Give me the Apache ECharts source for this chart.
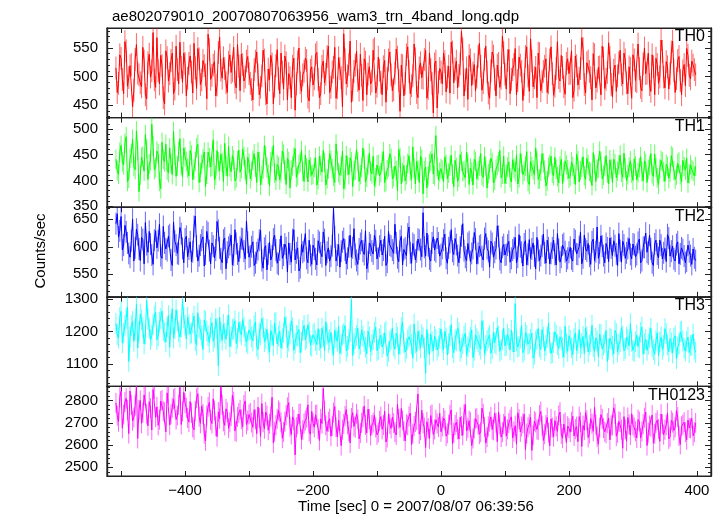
<!DOCTYPE html>
<html>
<head>
<meta charset="utf-8">
<script src="https://cdn.jsdelivr.net/npm/echarts@6/dist/echarts.min.js"></script>
<style>html,body{margin:0;padding:0;background:#fff}#c{width:724px;height:516px}</style>
</head>
<body>
<div id="c"></div>
<script>
// ---- data (2 s sampling: "a" bins start at t = -508 s, "b" bins at t = -506 s, each every 4 s) ----
const titleText = "ae802079010_20070807063956_wam3_trn_4band_long.qdp";
const xName = "Time [sec] 0 = 2007/08/07 06:39:56";
const yName = "Counts/sec";
const bandNames = ["TH0", "TH1", "TH2", "TH3", "TH0123"];
const tStart = -508;
const tStep = 2;
const xTicks = [-500, -400, -300, -200, -100, 0, 100, 200, 300, 400];
const xLabels = [-400, -200, 0, 200, 400];
// typical half-length of the light error bars in each panel (counts/sec)
const errBars = [20, 19, 20, 32, 45];

const th0a = [515,488,532,470,545,498,521,476,556,503,482,527,461,539,510,494,568,487,519,452,533,505,541,478,512,560,490,523,
497,536,471,515,549,486,528,503,574,495,520,466,542,511,533,489,525,507,551,480,518,539,492,527,505,
477,512,543,468,501,529,452,494,522,483,547,470,508,536,459,498,518,441,526,489,503,532,464,511,485,
538,495,470,527,504,553,481,516,462,533,498,575,487,521,455,509,544,476,502,531,468,517,492,549,483,
511,468,528,496,543,475,506,534,439,519,488,552,470,501,531,463,524,497,546,479,512,436,527,490,508,
541,473,518,560,489,527,502,579,466,515,537,484,521,499,558,476,530,508,462,543,495,520,481,571,504,
528,470,512,549,493,520,458,535,501,566,482,516,541,475,509,531,489,552,467,514,498,537,482,523,505,
545,476,519,497,568,486,524,509,459,538,492,517,553,479,507,533,464,520,501,546,487,529,470,514,538,
493,557,481,522,505,541,474,517,532,488,564,499,526,478,543,510,496,535,468,521,549,502,527,512];
const th0b = [472,538,495,561,483,519,447,530,506,489,551,468,524,499,577,481,510,537,463,545,492,528,470,553,487,516,541,
466,523,508,558,479,531,494,519,461,547,502,526,485,569,497,514,472,538,510,490,556,475,521,499,535,
488,459,527,503,481,546,470,513,537,452,519,496,541,478,524,505,463,532,487,550,474,509,528,457,517,
496,542,463,518,489,535,472,508,551,480,514,447,529,501,562,476,520,493,539,458,525,504,487,546,471,
534,490,517,455,529,503,477,548,493,520,466,538,509,484,557,472,515,498,530,462,541,488,522,445,514,
487,526,499,471,543,513,480,522,548,494,460,529,506,475,535,518,489,553,471,510,536,466,523,497,542,
478,547,495,521,468,534,509,486,552,474,527,498,463,540,491,518,472,529,505,483,561,492,516,469,531,
506,463,536,485,514,549,471,527,498,540,480,516,468,532,495,559,486,511,474,524,503,541,489,517,462,
529,491,514,475,550,506,486,538,468,521,499,544,480,517,505,562,472,528,493,510,484,537,496,520,503];

const th1a = [441,412,468,430,485,404,452,427,496,378,445,418,461,432,509,421,457,398,474,436,420,463,411,449,428,481,407,446,
424,458,401,437,470,415,442,388,455,426,479,410,436,451,398,428,466,417,440,405,459,423,447,392,433,
418,452,396,437,410,468,425,389,446,414,431,401,457,420,443,385,428,462,409,435,417,449,397,426,412,
444,402,429,458,391,422,439,408,471,415,427,384,448,411,436,419,460,398,425,441,406,453,413,389,430,
409,437,396,421,452,403,428,380,444,415,399,433,418,465,393,420,447,374,426,408,438,412,487,401,423,
397,431,414,449,388,425,406,437,419,455,392,416,441,403,428,410,446,385,421,435,400,429,458,412,394,
426,405,440,417,393,452,411,428,398,437,420,463,402,418,434,389,426,447,409,422,395,441,416,430,404,
436,412,451,397,425,409,443,418,390,431,422,457,403,427,414,440,396,432,418,449,406,424,411,438,400,
428,415,446,399,433,421,452,408,425,392,439,417,431,404,448,419,410,436,397,427,443,413,421,409];
const th1b = [419,455,436,472,398,443,480,421,458,410,447,489,402,438,466,425,452,384,441,470,415,433,495,408,456,429,463,
437,409,449,422,463,396,431,455,412,444,427,401,458,419,435,472,408,426,448,399,438,416,461,421,445,
403,439,426,455,391,422,448,412,436,468,400,427,415,451,392,437,420,445,406,431,458,398,424,440,410,
425,391,447,416,435,403,452,423,396,438,410,457,401,429,444,388,420,436,411,463,397,430,418,447,405,
431,415,456,398,426,443,407,419,460,393,429,411,448,402,424,437,396,441,419,385,433,452,409,427,416,
420,446,403,428,412,439,398,450,417,405,433,424,391,437,419,452,406,428,413,443,395,422,436,405,447,
412,436,397,424,449,405,433,418,456,392,427,411,439,403,452,420,399,431,414,445,407,428,393,438,421,
408,427,392,438,419,446,402,431,415,454,398,424,437,410,448,393,422,441,405,430,416,453,399,426,414,
442,401,425,417,438,396,429,413,451,405,422,436,398,427,416,445,402,433,411,439,420,395,430,418,427];

const th2a = [642,618,655,603,627,588,611,574,632,596,617,569,604,628,585,612,598,641,579,607,593,622,566,610,588,635,597,614,
582,609,591,656,574,603,618,587,625,569,601,594,630,578,612,560,599,621,585,606,573,615,592,647,581,
600,566,589,612,575,597,558,608,583,621,570,594,579,605,554,587,613,576,598,562,590,624,571,584,603,
578,611,589,627,566,598,583,670,574,604,592,615,569,600,581,633,575,596,612,586,560,607,592,621,578,
601,585,619,572,603,594,641,580,611,567,598,623,589,606,576,614,595,662,583,602,574,618,591,607,586,
612,579,598,631,586,604,571,620,593,575,609,588,626,569,601,582,615,597,563,606,590,638,577,599,585,
603,572,594,617,581,600,565,611,586,579,607,560,593,584,623,570,598,588,612,567,595,581,606,574,590,
578,614,587,600,569,621,592,583,609,575,636,589,601,571,598,616,584,602,566,593,610,579,597,586,605,
582,608,571,599,625,587,596,566,612,580,603,589,573,616,592,578,604,569,598,583,574,591,568,580];
const th2b = [660,629,594,639,607,581,650,598,622,575,613,644,590,605,568,629,611,584,637,596,619,576,645,603,587,624,571,
619,596,573,637,601,584,612,565,628,593,607,580,646,598,571,616,590,604,567,631,587,599,614,578,608,
583,609,571,595,630,561,602,587,576,614,594,568,620,585,598,607,572,631,589,556,604,593,579,612,568,
596,567,608,582,613,590,574,602,618,585,563,609,594,579,621,598,586,568,606,592,629,573,603,587,611,
579,612,594,566,628,601,588,607,573,619,595,584,636,570,603,591,612,582,599,625,578,607,594,616,583,
597,623,570,608,592,615,584,599,642,581,606,573,597,614,588,603,576,624,592,610,581,597,619,571,604,
586,610,579,598,571,622,590,605,567,613,596,583,617,575,601,589,612,569,598,586,624,572,603,591,579,
599,574,611,586,627,580,596,606,568,614,591,579,620,584,606,573,598,611,587,624,572,603,589,615,578,
604,586,614,575,599,590,621,571,605,587,612,578,597,622,583,601,574,609,587,595,571,603,584,596,575];

const th3a = [1225,1180,1262,1195,1241,1108,1218,1170,1284,1201,1236,1162,1296,1210,1188,1247,1175,1229,1263,1197,1215,1152,1270,1208,1233,1183,1299,1219,
1244,1192,1226,1171,1258,1206,1145,1231,1187,1212,1170,1239,1095,1198,1222,1176,1251,1184,1208,1163,1229,1190,1214,1168,1205,
1183,1218,1155,1196,1240,1169,1207,1137,1189,1226,1162,1201,1178,1244,1151,1193,1212,1164,1186,1135,1203,1174,1221,1158,1190,
1172,1209,1149,1185,1230,1166,1197,1128,1181,1215,1160,1194,1140,1176,1298,1163,1188,1147,1205,1170,1132,1183,1159,1197,1141,
1178,1152,1196,1124,1169,1210,1146,1183,1160,1228,1137,1174,1190,1118,1165,1201,1149,1181,1072,1163,1192,1140,1176,1155,1208,
1144,1180,1163,1221,1135,1171,1196,1150,1185,1127,1167,1205,1142,1178,1158,1233,1131,1172,1189,1147,1166,1212,1139,1174,1156,
1191,1143,1168,1286,1152,1180,1135,1197,1161,1176,1118,1170,1209,1145,1183,1157,1226,1132,1166,1190,1148,1174,1121,1163,1187,
1150,1178,1141,1206,1163,1132,1184,1158,1219,1139,1171,1192,1146,1166,1108,1180,1155,1203,1137,1169,1186,1148,1175,1224,1142,
1168,1153,1197,1130,1176,1161,1210,1144,1172,1125,1183,1157,1194,1138,1165,1179,1116,1162,1201,1149,1170,1135,1158,1146];
const th3b = [1190,1243,1165,1219,1276,1183,1231,1207,1149,1254,1212,1192,1238,1175,1221,1259,1186,1240,1203,1168,1249,1225,1180,1267,1199,1214,1242,
1177,1220,1196,1248,1159,1213,1187,1235,1201,1166,1227,1182,1210,1244,1173,1195,1219,1153,1206,1233,1179,1200,1237,1185,1162,
1206,1171,1229,1145,1190,1213,1180,1164,1203,1157,1228,1186,1149,1197,1215,1170,1233,1142,1188,1206,1167,1219,1179,1198,1154,
1195,1160,1173,1210,1141,1192,1175,1156,1204,1170,1133,1189,1218,1154,1200,1126,1178,1210,1161,1186,1152,1201,1139,1175,1213,
1145,1189,1163,1201,1138,1176,1157,1195,1130,1212,1165,1148,1184,1160,1223,1139,1174,1191,1150,1206,1129,1168,1185,1143,1179,
1166,1201,1128,1187,1150,1175,1211,1139,1162,1194,1153,1182,1120,1190,1169,1146,1204,1157,1180,1133,1198,1161,1186,1145,1210,
1158,1179,1204,1137,1171,1155,1219,1142,1188,1163,1195,1130,1176,1154,1206,1140,1182,1167,1135,1199,1160,1184,1151,1216,1139,
1173,1128,1196,1162,1149,1185,1211,1137,1168,1154,1180,1123,1191,1158,1203,1145,1176,1131,1194,1160,1212,1141,1183,1156,1170,
1138,1189,1150,1214,1163,1142,1181,1155,1130,1196,1167,1145,1209,1159,1178,1134,1187,1152,1199,1171,1140,1183,1157,1192,1136];

const th0123a = [2790,2705,2842,2738,2810,2652,2781,2724,2865,2759,2698,2826,2741,2795,2668,2853,2772,2714,2803,2747,2835,2690,2768,2812,2733,2860,2751,2789,
2722,2796,2680,2754,2831,2698,2740,2619,2772,2713,2808,2685,2749,2862,2707,2763,2676,2731,2795,2659,2744,2716,2780,2693,2738,
2701,2759,2652,2722,2787,2674,2733,2696,2815,2660,2718,2748,2631,2705,2770,2683,2727,2556,2694,2742,2667,2711,2781,2649,2698,
2736,2672,2718,2855,2689,2705,2640,2746,2681,2712,2598,2695,2760,2663,2722,2684,2741,2628,2700,2776,2655,2717,2690,2734,2646,
2709,2671,2752,2634,2695,2725,2658,2783,2680,2711,2619,2689,2744,2652,2704,2830,2667,2698,2589,2676,2733,2648,2714,2681,2660,
2722,2640,2691,2758,2655,2703,2627,2686,2739,2664,2710,2598,2675,2721,2649,2766,2682,2636,2705,2670,2743,2615,2693,2658,2729,
2671,2714,2632,2687,2745,2659,2698,2580,2680,2726,2645,2702,2667,2751,2621,2690,2656,2718,2638,2684,2733,2650,2695,2612,2676,
2705,2641,2683,2728,2594,2667,2712,2652,2696,2770,2637,2679,2718,2660,2699,2623,2688,2741,2655,2703,2586,2671,2724,2645,2690,
2662,2715,2632,2694,2748,2656,2682,2609,2700,2673,2739,2647,2690,2628,2711,2666,2755,2641,2685,2703,2624,2677,2720,2658];
const th0123b = [2732,2815,2676,2794,2757,2843,2709,2778,2630,2801,2745,2822,2687,2766,2850,2725,2689,2798,2752,2660,2827,2739,2806,2715,2781,2693,2837,
2768,2703,2745,2669,2810,2728,2776,2651,2734,2792,2697,2756,2638,2719,2781,2689,2747,2703,2824,2664,2727,2759,2682,2798,2710,
2745,2680,2716,2771,2639,2703,2749,2667,2728,2610,2690,2756,2702,2659,2735,2791,2648,2714,2681,2740,2625,2697,2724,2661,2752,
2680,2738,2621,2697,2755,2662,2719,2686,2773,2637,2708,2670,2731,2693,2610,2746,2678,2715,2654,2726,2690,2762,2643,2701,2679,
2657,2728,2690,2614,2741,2675,2699,2646,2718,2765,2663,2694,2729,2601,2686,2712,2650,2757,2679,2705,2628,2738,2670,2697,2743,
2684,2712,2653,2736,2605,2690,2671,2725,2644,2783,2678,2703,2630,2719,2692,2658,2741,2609,2684,2727,2666,2701,2749,2636,2695,
2640,2699,2727,2661,2604,2716,2683,2739,2652,2694,2576,2708,2670,2735,2687,2649,2724,2597,2679,2710,2662,2748,2631,2702,2685,
2658,2730,2672,2615,2703,2688,2746,2634,2719,2662,2691,2604,2737,2676,2653,2722,2689,2768,2640,2707,2670,2728,2618,2693,2741,
2679,2632,2706,2661,2723,2598,2688,2735,2650,2712,2617,2695,2669,2745,2637,2701,2680,2726,2603,2692,2658,2713,2675,2642,2700];

const yRanges = [[428, 585], [348, 522], [509, 672], [1031, 1307], [2461, 2864]];
const yMajor = [[450, 500, 550], [350, 400, 450, 500], [550, 600, 650], [1100, 1200, 1300], [2500, 2600, 2700, 2800]];
const yMinorStep = [10, 10, 10, 20, 20];
const colors = ["#ff0000", "#00ff00", "#0000ff", "#00ffff", "#ff00ff"];
const seriesPairs = [[th0a, th0b], [th1a, th1b], [th2a, th2b], [th3a, th3b], [th0123a, th0123b]];

// ---- chart ----
const chart = echarts.init(document.getElementById('c'), null, {renderer: 'canvas'});
const FONT = "'Liberation Sans', Arial, Helvetica, sans-serif";
const L = 107, R = 13, TOP = 28, PH = 89.6;
const grids = [], xAxes = [], yAxes = [], series = [], graphics = [];

function minorVals(i) {
  const [lo, hi] = yRanges[i], s = yMinorStep[i];
  const out = [];
  for (let v = Math.ceil(lo / s) * s; v <= hi; v += s) out.push(v);
  return out;
}
function merge(a, b) {
  const out = [];
  const n = Math.max(a.length, b.length);
  for (let k = 0; k < n; k++) {
    if (k < a.length) out.push([tStart + 2 * k * tStep, a[k]]);
    if (k < b.length) out.push([tStart + (2 * k + 1) * tStep, b[k]]);
  }
  return out;
}

for (let i = 0; i < 5; i++) {
  grids.push({left: L, right: R, top: TOP + i * PH, height: PH, show: true, borderColor: '#222', borderWidth: 1.2});
  const last = i === 4;
  ['bottom', 'top'].forEach(pos => {
    xAxes.push({
      type: 'value', gridIndex: i, position: pos, min: -522, max: 422,
      axisLine: {show: true, onZero: false, lineStyle: {color: '#222', width: 1.2}},
      axisTick: {show: true, inside: true, length: 5, customValues: xTicks, lineStyle: {color: '#222'}},
      axisLabel: {show: last && pos === 'bottom', customValues: xLabels, color: '#000', fontSize: 15, fontFamily: FONT, margin: 7,
        formatter: v => (v < 0 ? '\u2212' + Math.abs(v) : String(v))},
      splitLine: {show: false}
    });
  });
  const yBase = yAxes.length;
  const [lo, hi] = yRanges[i];
  const mk = (pos, major, showLabel) => ({
    type: 'value', gridIndex: i, position: pos, min: lo, max: hi,
    axisLine: {show: true, onZero: false, lineStyle: {color: '#222', width: 1.2}},
    axisTick: {show: true, inside: true, length: major ? 6 : 3, customValues: major ? yMajor[i] : minorVals(i), lineStyle: {color: '#222'}},
    axisLabel: {show: showLabel, customValues: yMajor[i], color: '#000', fontSize: 15, fontFamily: FONT, margin: 9,
      formatter: v => String(v)},
    splitLine: {show: false}
  });
  yAxes.push(mk('left', true, true), mk('left', false, false), mk('right', true, false), mk('right', false, false));
  const data = merge(seriesPairs[i][0], seriesPairs[i][1]);
  const xi = i * 2;
  const e = errBars[i];
  const col = colors[i];
  series.push({
    type: 'custom', xAxisIndex: xi, yAxisIndex: yBase, data, silent: true, clip: true, z: 2,
    renderItem: (params, api) => {
      const x = api.value(0), y = api.value(1);
      const p1 = api.coord([x, y - e]), p2 = api.coord([x, y + e]);
      return {type: 'line', shape: {x1: p1[0], y1: p1[1], x2: p2[0], y2: p2[1]},
        style: {stroke: col, lineWidth: 1, opacity: 0.6}};
    }
  });
  series.push({type: 'line', xAxisIndex: xi, yAxisIndex: yBase, data, symbol: 'none', silent: true,
    lineStyle: {color: col, width: 1}, animation: false, z: 3});
  graphics.push({type: 'text', right: 724 - 705, top: TOP + i * PH + 1,
    style: {text: bandNames[i], fill: '#000', font: '16px ' + FONT, textAlign: 'right'}, z: 10});
}

graphics.push({type: 'text', x: 416, y: 507, style: {text: xName, fill: '#000', font: '15px ' + FONT, textAlign: 'center', textVerticalAlign: 'middle'}});
graphics.push({type: 'text', x: 41, y: 251, rotation: Math.PI / 2, style: {text: yName, fill: '#000', font: '15px ' + FONT, textAlign: 'center', textVerticalAlign: 'middle'}});

chart.setOption({
  animation: false,
  backgroundColor: '#fff',
  title: {text: titleText, left: 107, top: 4, textStyle: {fontSize: 15, fontWeight: 'normal', color: '#000', fontFamily: FONT}},
  grid: grids, xAxis: xAxes, yAxis: yAxes, series, graphic: graphics
});
</script>
</body>
</html>
